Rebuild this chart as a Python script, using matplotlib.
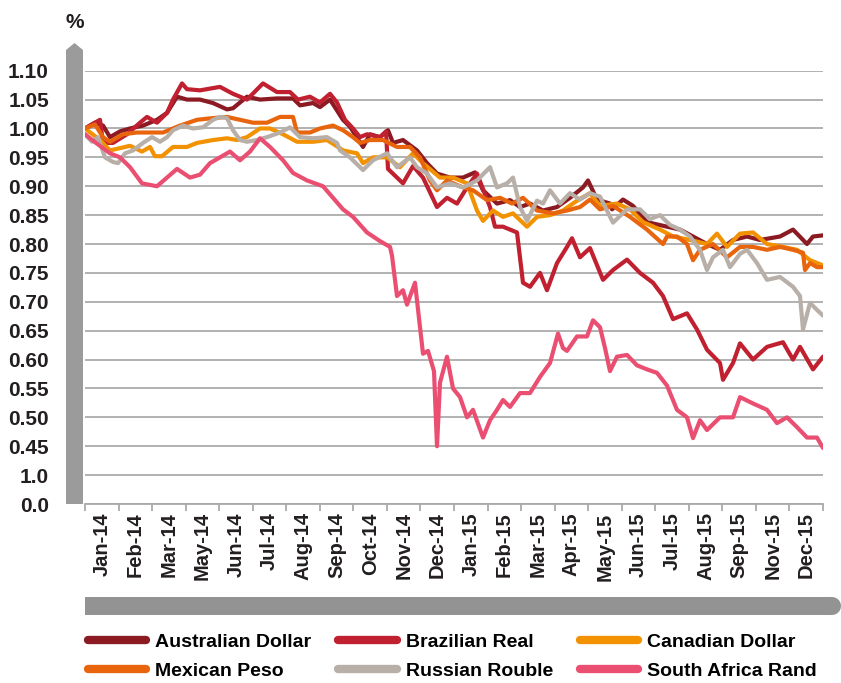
import matplotlib.pyplot as plt
import numpy as np
from matplotlib.lines import Line2D
from matplotlib.patches import Polygon, Rectangle

plt.rcParams['font.family'] = ['Liberation Sans', 'DejaVu Sans']
plt.rcParams['font.weight'] = 'bold'

# x = day offset from start of Jan-14 (approx), y = index (start = 1.00)
aud_x = [0, 10, 18, 25, 35, 45, 58, 72, 82, 92, 102, 115, 128, 142, 148, 162, 175, 192, 208, 215,
         228, 235, 245, 258, 265, 278, 285, 295, 303, 308, 318, 332, 342, 352, 365, 378, 390, 398, 412, 425,
         435, 445, 458, 472, 485, 498, 503, 512, 525, 527, 538, 548, 562, 582, 595, 608, 622, 635, 648, 662,
         675, 695, 708, 722, 728, 738]
aud_y = [1.00, 1.01, 1.005, 0.985, 0.995, 1.00, 1.005, 1.015, 1.027, 1.055, 1.05, 1.05, 1.044, 1.033, 1.035,
         1.055, 1.05, 1.052, 1.052, 1.04, 1.044, 1.037, 1.05, 1.015, 1.003, 0.968, 0.99, 0.985, 0.997, 0.975,
         0.98, 0.962, 0.94, 0.922, 0.915, 0.915, 0.924, 0.893, 0.87, 0.876, 0.864, 0.87, 0.858, 0.864, 0.88,
         0.898, 0.91, 0.877, 0.87, 0.86, 0.877, 0.866, 0.838, 0.83, 0.825, 0.813, 0.80, 0.79, 0.807, 0.813,
         0.807, 0.813, 0.825, 0.80, 0.813, 0.815]

brl_x = [0, 10, 15, 18, 28, 42, 55, 62, 72, 82, 88, 97, 102, 115, 135, 148, 162, 178, 192, 205,
         213, 225, 235, 245, 252, 260, 268, 275, 282, 295, 301, 303, 318, 328, 338, 352, 362, 372, 382, 392,
         405, 410, 418, 432, 438, 445, 455, 462, 472, 482, 487, 495, 505, 518, 528, 542, 555, 568, 578, 588,
         602, 612, 622, 635, 638, 648, 655, 668, 682, 698, 708, 715, 728, 738]
brl_y = [1.00, 1.01, 1.015, 0.975, 0.975, 0.99, 1.01, 1.02, 1.01, 1.027, 1.05, 1.078, 1.068, 1.066, 1.072,
         1.06, 1.05, 1.078, 1.063, 1.063, 1.05, 1.055, 1.045, 1.06, 1.045, 1.015, 1.0, 0.985, 0.99, 0.985,
         0.995, 0.93, 0.905, 0.935, 0.915, 0.864, 0.88, 0.87, 0.898, 0.922, 0.864, 0.83, 0.83, 0.82, 0.733,
         0.726, 0.75, 0.72, 0.767, 0.795, 0.81, 0.777, 0.793, 0.738, 0.755, 0.773, 0.75, 0.733, 0.71, 0.67,
         0.68, 0.652, 0.617, 0.594, 0.565, 0.594, 0.628, 0.60, 0.622, 0.63, 0.60, 0.622, 0.583, 0.605]

cad_x = [0, 15, 25, 35, 45, 57, 65, 70, 77, 88, 102, 112, 128, 142, 152, 162, 175, 185, 198, 212,
         228, 242, 253, 258, 272, 278, 288, 302, 315, 328, 338, 355, 368, 382, 392, 398, 408, 418, 428, 442,
         452, 465, 478, 492, 505, 515, 532, 545, 558, 575, 588, 605, 622, 632, 642, 655, 668, 682, 698, 712,
         725, 738]
cad_y = [1.00, 0.98, 0.962, 0.966, 0.97, 0.96, 0.968, 0.952, 0.952, 0.968, 0.968, 0.975, 0.98, 0.983, 0.98,
         0.985, 1.00, 1.00, 0.99, 0.977, 0.977, 0.98, 0.968, 0.962, 0.957, 0.94, 0.95, 0.95, 0.933, 0.957,
         0.94, 0.915, 0.915, 0.905, 0.858, 0.84, 0.858, 0.847, 0.853, 0.83, 0.847, 0.85, 0.858, 0.875, 0.888,
         0.866, 0.87, 0.86, 0.838, 0.825, 0.813, 0.807, 0.80, 0.818, 0.795, 0.818, 0.82, 0.80, 0.795, 0.79,
         0.772, 0.763]

mxn_x = [0, 10, 18, 25, 38, 52, 65, 78, 95, 112, 128, 142, 155, 168, 182, 195, 208, 212, 225, 235,
         248, 258, 268, 275, 285, 298, 312, 325, 335, 345, 352, 362, 375, 388, 402, 415, 427, 438, 452, 468,
         482, 495, 505, 515, 528, 545, 562, 578, 582, 592, 602, 608, 615, 628, 642, 655, 668, 682, 695, 708,
         718, 720, 725, 732, 738]
mxn_y = [1.00, 1.007, 0.985, 0.977, 0.99, 0.993, 0.993, 0.993, 1.005, 1.015, 1.018, 1.02, 1.015, 1.01, 1.01,
         1.02, 1.02, 0.993, 0.993, 1.00, 1.005, 0.997, 0.985, 0.975, 0.98, 0.98, 0.968, 0.968, 0.95, 0.91,
         0.893, 0.91, 0.90, 0.893, 0.876, 0.88, 0.87, 0.88, 0.858, 0.853, 0.858, 0.864, 0.877, 0.86, 0.866,
         0.847, 0.825, 0.80, 0.813, 0.813, 0.80, 0.772, 0.79, 0.80, 0.777, 0.795, 0.795, 0.79, 0.795, 0.79,
         0.785, 0.755, 0.767, 0.76, 0.76]

rub_x = [0, 7, 13, 20, 28, 33, 40, 48, 58, 67, 75, 82, 88, 98, 108, 118, 128, 135, 142, 148,
         155, 162, 172, 182, 195, 205, 215, 228, 242, 252, 255, 265, 278, 288, 302, 312, 325, 332, 342, 352,
         365, 378, 392, 405, 412, 422, 428, 435, 442, 452, 458, 465, 475, 485, 495, 505, 515, 528, 542, 555,
         565, 575, 585, 595, 605, 615, 622, 628, 638, 645, 655, 662, 672, 682, 695, 708, 715, 718, 725, 732,
         738]
rub_y = [0.99, 0.977, 0.985, 0.95, 0.942, 0.94, 0.957, 0.962, 0.975, 0.985, 0.977, 0.985, 0.997, 1.005, 1.00,
         1.002, 1.015, 1.02, 1.018, 0.997, 0.98, 0.977, 0.98, 0.985, 0.993, 1.002, 0.985, 0.983, 0.985, 0.975,
         0.962, 0.95, 0.928, 0.945, 0.957, 0.933, 0.95, 0.933, 0.922, 0.898, 0.905, 0.898, 0.91, 0.933, 0.898,
         0.905, 0.915, 0.864, 0.84, 0.875, 0.87, 0.893, 0.87, 0.888, 0.877, 0.888, 0.882, 0.837, 0.86, 0.86,
         0.843, 0.85, 0.833, 0.825, 0.813, 0.79, 0.755, 0.777, 0.79, 0.76, 0.783, 0.79, 0.767, 0.738, 0.743,
         0.726, 0.71, 0.652, 0.698, 0.686, 0.676]

zar_x = [0, 11, 25, 35, 45, 57, 72, 82, 92, 105, 115, 125, 135, 145, 155, 165, 175, 185, 198, 208,
         222, 238, 248, 258, 268, 282, 295, 305, 307, 312, 318, 322, 330, 338, 343, 349, 352, 355, 362, 368,
         375, 382, 388, 398, 405, 412, 418, 425, 435, 445, 455, 465, 473, 478, 482, 492, 502, 508, 515, 520,
         525, 532, 542, 552, 562, 572, 582, 592, 602, 608, 615, 622, 635, 648, 655, 668, 682, 692, 702, 712,
         722, 732, 738]
zar_y = [0.99, 0.975, 0.957, 0.95, 0.933, 0.905, 0.90, 0.915, 0.93, 0.915, 0.92, 0.94, 0.95, 0.96, 0.945,
         0.96, 0.983, 0.968, 0.945, 0.923, 0.91, 0.90, 0.88, 0.86, 0.847, 0.82, 0.805, 0.795, 0.78, 0.71,
         0.72, 0.695, 0.733, 0.61, 0.615, 0.58, 0.45, 0.56, 0.605, 0.55, 0.535, 0.50, 0.513, 0.465, 0.495,
         0.513, 0.53, 0.518, 0.542, 0.542, 0.57, 0.594, 0.645, 0.62, 0.615, 0.64, 0.64, 0.668, 0.656, 0.62,
         0.58, 0.605, 0.608, 0.59, 0.583, 0.577, 0.555, 0.513, 0.50, 0.464, 0.495, 0.478, 0.50, 0.50, 0.535,
         0.524, 0.513, 0.49, 0.50, 0.483, 0.465, 0.465, 0.447]

names = ['Australian Dollar', 'Brazilian Real', 'Canadian Dollar',
         'Mexican Peso', 'Russian Rouble', 'South Africa Rand']
colors = ['#8C1A22', '#C0202F', '#F39200', '#E9650D', '#B7AFA8', '#EA4F72']

months = ['Jan-14', 'Feb-14', 'Mar-14', 'May-14', 'Jun-14', 'Jul-14', 'Aug-14', 'Sep-14', 'Oct-14',
          'Nov-14', 'Dec-14', 'Jan-15', 'Feb-15', 'Mar-15', 'Apr-15', 'May-15', 'Jun-15', 'Jul-15',
          'Aug-15', 'Sep-15', 'Nov-15', 'Dec-15']
yticks = [1.10, 1.05, 1.00, 0.95, 0.90, 0.85, 0.80, 0.75, 0.70, 0.65, 0.60, 0.55, 0.50, 0.45, 0.40, 0.35]
ylabels = ['1.10', '1.05', '1.00', '0.95', '0.90', '0.85', '0.80', '0.75', '0.70', '0.65', '0.60',
           '0.55', '0.50', '0.45', '1.0', '0.0']

fig = plt.figure(figsize=(8.41, 6.83), dpi=100)
ax = fig.add_axes([85/841, 1-504/683, (823-85)/841, (504-70.7)/683])

series = [(aud_x, aud_y), (brl_x, brl_y), (cad_x, cad_y), (mxn_x, mxn_y), (rub_x, rub_y), (zar_x, zar_y)]
for (xs, ys), c in zip(series, colors):
    ax.plot(xs, ys, color=c, lw=3.0, solid_joinstyle='round', solid_capstyle='round', zorder=3)

span = 738
ax.set_xlim(0, span)
ax.set_ylim(0.35, 1.10)
edges = np.linspace(0, span, len(months) + 1)
ax.set_xticks(edges)
ax.set_xticklabels([])
ax.set_xticks((edges[:-1] + edges[1:]) / 2, minor=True)
ax.set_xticklabels(months, minor=True, rotation=90, fontsize=14.5, fontweight='bold', color='#231F20')
ax.tick_params(axis='x', which='major', length=5, width=1.3, color='#AAAAAA')
ax.tick_params(axis='x', which='minor', length=0, pad=6)

ax.set_yticks(yticks)
ax.set_yticklabels(ylabels, fontsize=15, fontweight='bold', color='#231F20')
ax.tick_params(axis='y', length=0, pad=26)
ax.yaxis.grid(True, color='#ABABAB', lw=1.3)
ax.set_axisbelow(True)
for s in ['top', 'right', 'left']:
    ax.spines[s].set_visible(False)
ax.spines['bottom'].set_color('#AAAAAA')
ax.spines['bottom'].set_linewidth(1.3)

# grey vertical axis arrow
fig.add_artist(Polygon([(66/841, 1-504/683), (83/841, 1-504/683), (83/841, 1-50/683),
                        (74.5/841, 1-43/683), (66/841, 1-50/683)],
                       closed=True, transform=fig.transFigure, color='#9B9B9B', lw=0))
fig.text(75/841, 1-23/683, '%', ha='center', va='center', fontsize=15, fontweight='bold', color='#231F20')

# grey horizontal bar under the labels
fig.add_artist(Rectangle((85/841, 1-615/683), (830-85)/841, 18/683,
                         transform=fig.transFigure, color='#939393', lw=0))
fig.add_artist(Line2D([826/841, 832/841], [1-606/683, 1-606/683], transform=fig.transFigure,
                      color='#939393', lw=13, solid_capstyle='round'))

# legend is filled column by column, so reorder to read row by row
order = [0, 3, 1, 4, 2, 5]
handles = [Line2D([], [], color=colors[i], lw=6, solid_capstyle='round') for i in order]
fig.legend(handles, [names[i] for i in order], ncol=3, loc='upper left',
           bbox_to_anchor=(88/841, 1-633/683),
           frameon=False, handlelength=3.0, handletextpad=0.45, columnspacing=1.4,
           labelspacing=0.62, borderpad=0, borderaxespad=0,
           prop={'weight': 'bold', 'size': 14})

fig.savefig('out.png', dpi=100)
